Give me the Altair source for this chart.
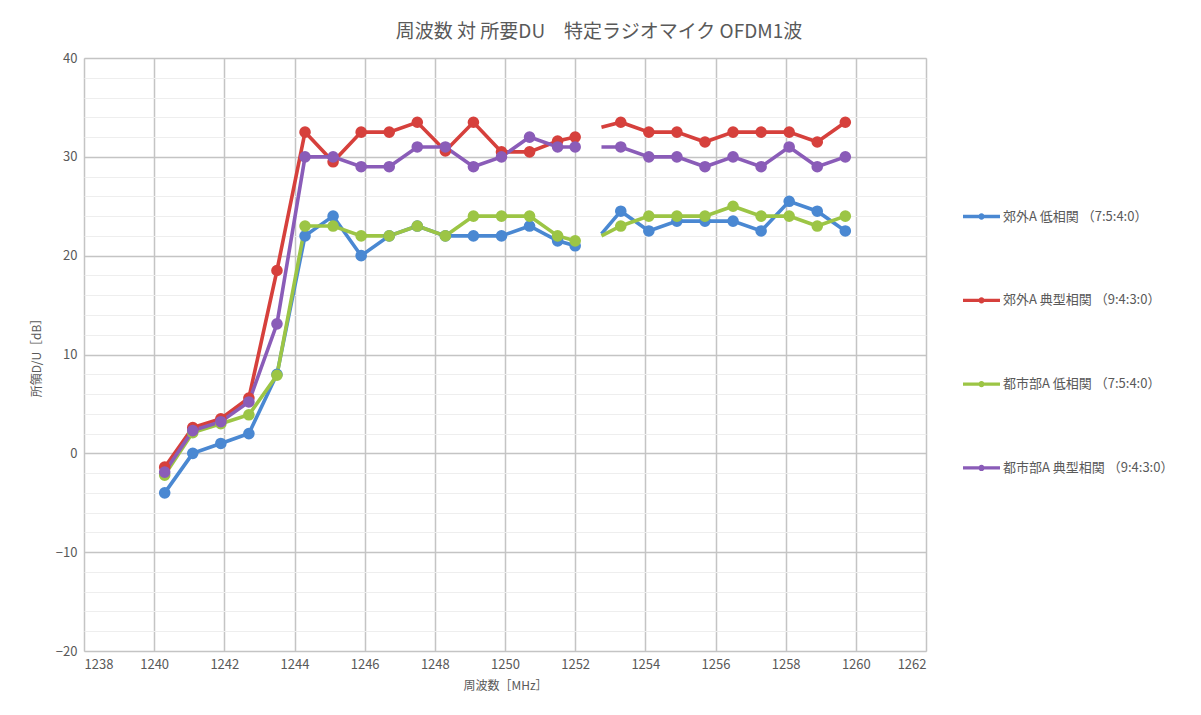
import altair as alt
import pandas as pd

# ---- data ----
series_names = [
    "郊外A 低相関 （7:5:4:0）",
    "郊外A 典型相関 （9:4:3:0）",
    "都市部A 低相関 （7:5:4:0）",
    "都市部A 典型相関 （9:4:3:0）",
]
series_colors = ["#4a88d2", "#d6403c", "#9cc545", "#8a5cb8"]

freq_seg1 = [1240.3, 1241.1, 1241.9, 1242.7, 1243.5, 1244.3, 1245.1, 1245.9,
             1246.7, 1247.5, 1248.3, 1249.1, 1249.9, 1250.7, 1251.5, 1252.0]
freq_seg2 = [1252.75, 1253.3, 1254.1, 1254.9, 1255.7, 1256.5, 1257.3, 1258.1,
             1258.9, 1259.7]
marker_seg2 = [0, 1, 1, 1, 1, 1, 1, 1, 1, 1]

blue_seg1 = [-4, 0, 1, 2, 8, 22, 24, 20, 22, 23, 22, 22, 22, 23, 21.5, 21]
red_seg1 = [-1.4, 2.6, 3.5, 5.6, 18.5, 32.5, 29.5, 32.5, 32.5, 33.5, 30.6,
            33.5, 30.5, 30.5, 31.6, 32]
green_seg1 = [-2.2, 2.1, 3, 3.9, 7.9, 23, 23, 22, 22, 23, 22, 24, 24, 24, 22, 21.5]
purple_seg1 = [-1.9, 2.3, 3.2, 5.2, 13.1, 30, 30, 29, 29, 31, 31, 29, 30, 32, 31, 31]

blue_seg2 = [22.2, 24.5, 22.5, 23.5, 23.5, 23.5, 22.5, 25.5, 24.5, 22.5]
red_seg2 = [33, 33.5, 32.5, 32.5, 31.5, 32.5, 32.5, 32.5, 31.5, 33.5]
green_seg2 = [22, 23, 24, 24, 24, 25, 24, 24, 23, 24]
purple_seg2 = [31, 31, 30, 30, 29, 30, 29, 31, 29, 30]

x_ticks = list(range(1238, 1263, 2))
y_ticks = list(range(-20, 41, 2))

# ---- build table ----
rows = []
seg1_vals = [blue_seg1, red_seg1, green_seg1, purple_seg1]
seg2_vals = [blue_seg2, red_seg2, green_seg2, purple_seg2]
for si, name in enumerate(series_names):
    for f, v in zip(freq_seg1, seg1_vals[si]):
        rows.append({"series": name, "order": si, "seg": 1, "freq": f, "du": v, "m": 1})
    for f, v, m in zip(freq_seg2, seg2_vals[si], marker_seg2):
        rows.append({"series": name, "order": si, "seg": 2, "freq": f, "du": v, "m": m})
df = pd.DataFrame(rows)

FONT = "Noto Sans CJK JP"
TXT = "#595959"

x_enc = alt.X(
    "freq:Q",
    scale=alt.Scale(domain=[1238, 1262], nice=False, zero=False),
    axis=alt.Axis(
        values=x_ticks, format="d", title="周波数［MHz］",
        grid=True, gridColor="#c4c4c4", gridWidth=1.5,
        domain=False, ticks=False, labelPadding=7,
        labelFontSize=13, labelColor=TXT, labelFont=FONT,
        titleFontSize=12, titleColor=TXT, titleFont=FONT,
        titleFontWeight="normal", titlePadding=9,
    ),
)
y_enc = alt.Y(
    "du:Q",
    scale=alt.Scale(domain=[-20, 40], nice=False, zero=False),
    axis=alt.Axis(
        values=y_ticks, title="所領D/U［dB］",
        labelExpr="datum.value % 10 === 0 ? datum.label : ''",
        grid=True,
        gridColor=alt.condition("datum.value % 10 === 0", alt.value("#c4c4c4"), alt.value("#eeeeee")),
        gridWidth=alt.condition("datum.value % 10 === 0", alt.value(1.5), alt.value(1)),
        domain=False, ticks=False, labelPadding=7,
        labelFontSize=13, labelColor=TXT, labelFont=FONT,
        titleFontSize=12, titleColor=TXT, titleFont=FONT,
        titleFontWeight="normal", titlePadding=12,
    ),
)
color_scale = alt.Scale(domain=series_names, range=series_colors)

legend_path = ("M-1,-0.09H1V0.09H-1Z "
               "M-0.17,0A0.17,0.17,0,1,1,0.17,0A0.17,0.17,0,1,1,-0.17,0Z")

lines = alt.Chart(df).mark_line(strokeWidth=3.6).encode(
    x=x_enc, y=y_enc,
    color=alt.Color("series:N", scale=color_scale, legend=None),
    detail="seg:N",
    order="freq:Q",
)

points = alt.Chart(df).transform_filter("datum.m == 1").mark_point(
    filled=True, size=135, opacity=1, shape="circle"
).encode(
    x=x_enc, y=y_enc,
    color=alt.Color(
        "series:N", scale=color_scale,
        legend=alt.Legend(
            title=None, orient="none", legendX=879, legendY=140,
            direction="vertical", symbolType=legend_path, symbolSize=1369,
            symbolStrokeWidth=0, rowPadding=57.8, padding=0, labelOffset=3,
            labelFontSize=13, labelColor=TXT, labelFont=FONT, labelLimit=300,
        ),
    ),
)

chart = alt.layer(lines, points).resolve_legend(color="independent").properties(
    width=842,
    height=593,
    autosize=alt.AutoSizeParams(type="none"),
    padding={"left": 76, "top": 50, "right": 259, "bottom": 56},
    title=alt.TitleParams(
        "周波数 対 所要DU　特定ラジオマイク OFDM1波",
        fontSize=19, color=TXT, font=FONT, fontWeight="normal",
        anchor="middle", dx=94, offset=10,
    ),
).configure_view(stroke=None).configure(background="white")

chart.save("out.html", embed_options={"renderer": "svg", "actions": False})
